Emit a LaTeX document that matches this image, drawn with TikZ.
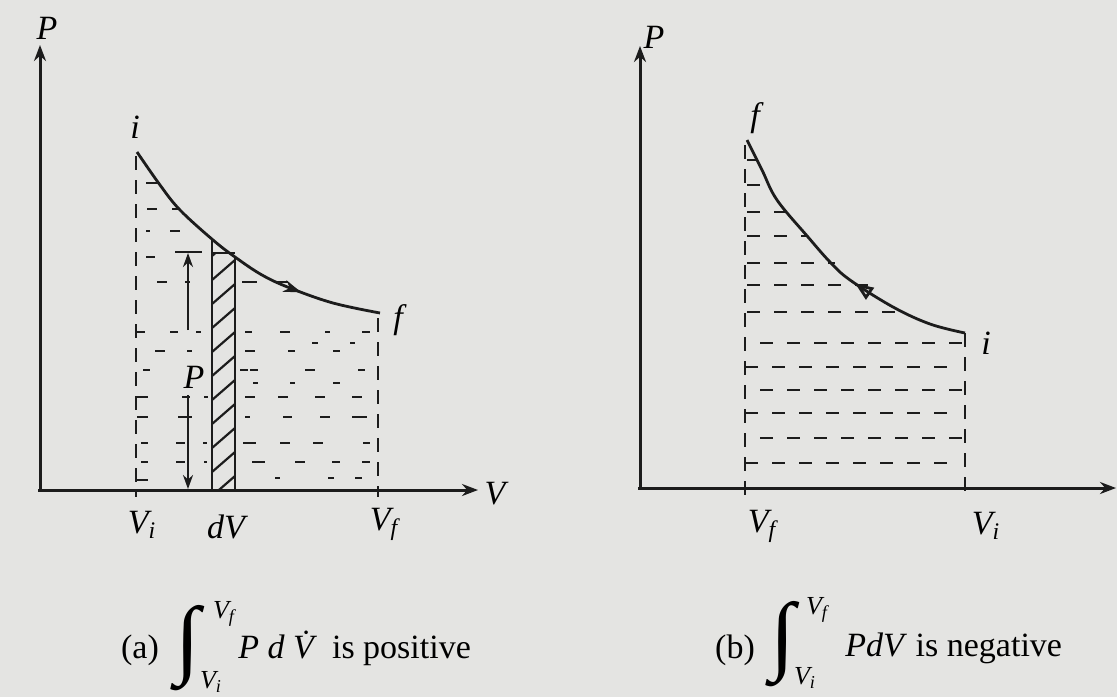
\documentclass[tikz,border=0pt]{standalone}
\usepackage{fontspec}
\setmainfont{Liberation Serif}
\usetikzlibrary{arrows.meta,decorations.markings}
\definecolor{paper}{RGB}{228,228,226}
\definecolor{ink}{RGB}{28,28,28}
\begin{document}
\begin{tikzpicture}[x=0.5pt,y=-0.5pt,
 axis/.style={ink,line width=1.5pt,-{Stealth[length=8pt,width=6pt]}},
 curve/.style={ink,line width=1.4pt},
 dsh/.style={ink,line width=1.1pt},
 border/.style={ink,line width=1.2pt,dash pattern=on 7pt off 5pt},
 row/.style={ink,line width=1.1pt,dash pattern=on 6.5pt off 7pt},
 solid line/.style={ink,line width=1.3pt},
 lbl/.style={font=\fontsize{17}{20}\selectfont\itshape,inner sep=0pt},
 sublbl/.style={font=\fontsize{13}{15}\selectfont\itshape,inner sep=0pt},
 intsign/.style={font=\fontsize{30}{32}\selectfont,inner sep=0pt,xscale=1.5,yscale=1.45},
 captxt/.style={font=\fontsize{17}{20}\selectfont,inner sep=0pt}]
\fill[paper] (0,0) rectangle (1117,697);
\useasboundingbox (0,0) rectangle (1117,697);

% ================= (a) =================
% dashed fill
\foreach \a/\b/\y in {146/160/183, 147/157/209, 172/180/209, 146/150/231, 170/180/231,
  146/155/257, 157/167/282, 185/190/282, 137/145/332, 170/178/332, 196/201/332,
  155/165/351, 187/192/351, 143/150/370, 137/148/397, 182/190/397, 204/208/397,
  137/148/417, 178/192/417, 141/148/443, 176/185/443, 203/207/443,
  141/148/462, 176/185/462, 204/207/462, 137/148/480,
  242/257/282, 277/288/282, 245/252/332, 280/290/332, 325/330/332, 362/370/332,
  312/318/343, 350/355/343, 245/255/351, 288/295/351, 333/340/351,
  240/248/370, 250/258/370, 305/315/370, 358/365/370,
  253/258/383, 290/295/383, 333/340/383,
  245/255/397, 278/288/397, 315/325/397, 352/362/397,
  245/250/417, 283/292/417, 320/330/417, 352/367/417,
  243/256/443, 280/290/443, 313/323/443, 363/370/443,
  252/265/462, 295/305/462, 332/340/462, 362/370/462,
  275/280/478, 328/334/478, 355/362/478}
  \draw[dsh] (\a,\y) -- (\b,\y);
\draw[border] (136,156) -- (136,497);
\draw[border] (378,318) -- (378,497);

% hatched strip
\begin{scope}
  \clip (212,253) rectangle (235,490);
  \foreach \k in {0,...,11}
    \draw[ink,line width=1.1pt] (212,{496-24*\k}) -- (235,{476-24*\k});
\end{scope}
\draw[solid line] (212,490) -- (212,240);
\draw[solid line] (235,490) -- (235,257);
\draw[solid line] (212,253) -- (235,253);

% P arrow
\draw[solid line] (175,252) -- (202,252);
\draw[solid line,-{Stealth[length=7pt,width=5pt]}] (188,330) -- (188,253);
\draw[solid line,-{Stealth[length=7pt,width=5pt]}] (188,395) -- (188,489);
\node[lbl] (Pmid) at (194,377) {P};

% curve
\draw[curve,decoration={markings,mark=at position 0.73 with {\arrow{Stealth[length=9pt,width=6pt]}}},postaction={decorate}]
  plot[smooth,tension=0.6] coordinates {(137,152) (160,185) (180,210) (213,240) (235,257) (262,275) (290,288) (333,303) (380,313)};

% axes
\draw[axis] (40,490) -- (40,45);
\draw[axis] (38,490) -- (478,490);
\node[lbl] (Pa) at (47,28) {P};
\node[lbl] (Va) at (495,494) {V};
\node[lbl] (ia) at (135,127) {i};
\node[lbl] (fa) at (398,320) {f};
\node[lbl] (Via) at (142,525) {V\textsubscript{i}};
\node[lbl] (dVa) at (226,527) {dV};
\node[lbl] (Vfa) at (384,524) {V\textsubscript{f}};

% ================= (b) =================
\foreach \a/\b/\y in {747/757/160, 747/765/185, 747/790/212, 747/808/236, 747/835/263,
  747/868/285, 747/898/312, 760/965/343, 745/955/367, 760/965/390, 745/955/413,
  760/965/438, 745/955/463}
  \draw[row] (\a,\y) -- (\b,\y);
\draw[border] (745,145) -- (745,497);
\draw[border] (965,333) -- (965,497);

\draw[curve,decoration={markings,mark=at position 0.6 with {\arrowreversed{Triangle[open,length=9pt,width=7pt]}}},postaction={decorate}]
  plot[smooth,tension=0.6] coordinates {(747,140) (762,170) (777,200) (808,237) (830,262) (850,280) (893,307) (930,324) (965,333)};

\draw[axis] (640,488) -- (640,46);
\draw[axis] (638,488) -- (1116,488);
\node[lbl] (Pb) at (654,37) {P};
\node[lbl] (fb) at (755,118) {f};
\node[lbl] (ib) at (986,343) {i};
\node[lbl] (Vfb) at (762,526) {V\textsubscript{f}};
\node[lbl] (Vib) at (986,526) {V\textsubscript{i}};

% ================= captions =================
\node[captxt] (capa) at (140,650) {(a)};
\node[intsign] (inta) at (188,648) {∫};
\node[sublbl] (inta-up) at (224,614) {V\textsubscript{f}};
\node[sublbl] (inta-lo) at (211,682) {V\textsubscript{i}};
\node[captxt,anchor=west] (txta) at (238,648) {\textit{P d \.{V}} is positive};

\node[captxt] (capb) at (735,650) {(b)};
\node[intsign] (intb) at (783,644) {∫};
\node[sublbl] (intb-up) at (817,610) {V\textsubscript{f}};
\node[sublbl] (intb-lo) at (805,678) {V\textsubscript{i}};
\node[captxt,anchor=west] (txtb) at (845,648) {\textit{PdV} is negative};
\end{tikzpicture}
\end{document}
